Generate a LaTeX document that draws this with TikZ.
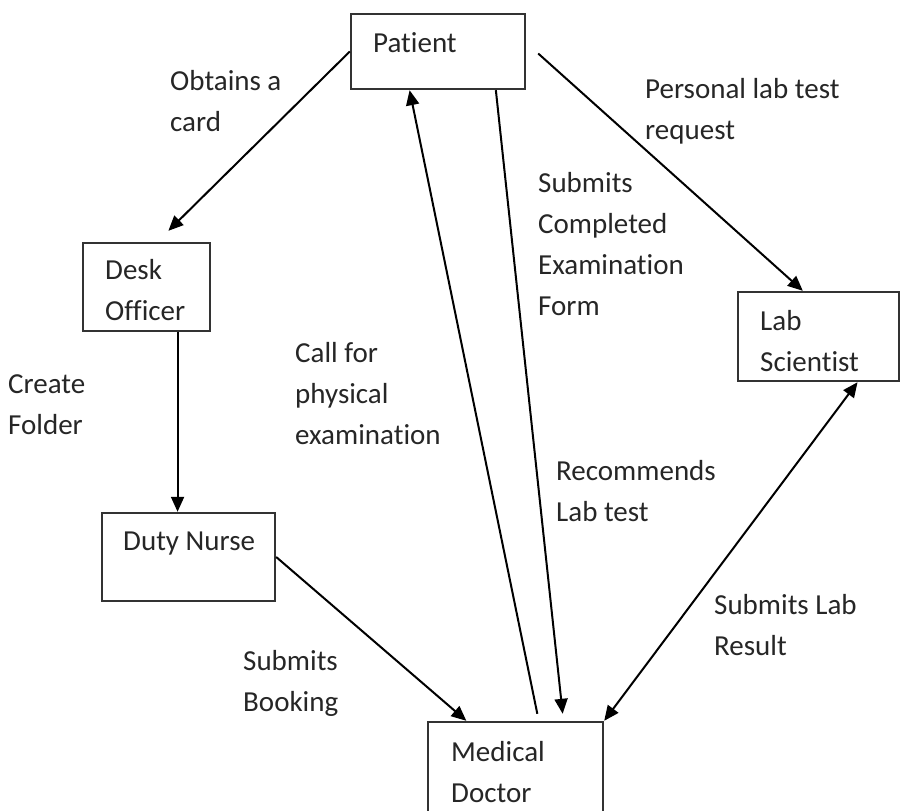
\documentclass[tikz,border=0pt]{standalone}
\usepackage{fontspec}
\setmainfont[Ligatures=NoCommon]{Carlito}
\usetikzlibrary{arrows.meta,calc}

\tikzset{
  box/.style={draw=black!80, line width=2.4pt, rectangle, inner sep=0pt, fill=white},
  % base west of a multi-line text is the baseline of its last line
  txt/.style={anchor=base west, inner sep=0pt, align=left, text=black!85,
    font=\fontsize{29}{41}\selectfont},
  conn/.style={line width=2pt, draw=black},
  arr/.style={conn, -{Triangle[length=15pt,width=13pt]}},
  darr/.style={conn, {Triangle[length=15pt,width=13pt]}-{Triangle[length=15pt,width=13pt]}}
}

\begin{document}
\begin{tikzpicture}[x=1pt, y=-1pt]
  \useasboundingbox (0,0) rectangle (903,811);

  % boxes
  \node[box, minimum width=174pt, minimum height=75pt] (patient) at (438,51.5) {};
  \node[box, minimum width=127pt, minimum height=88pt] (desk) at (146.5,287) {};
  \node[box, minimum width=161pt, minimum height=89pt] (lab) at (818.5,336.5) {};
  \node[box, minimum width=173pt, minimum height=88pt] (nurse) at (188.5,557) {};
  \node[box, minimum width=175pt, minimum height=92pt] (doctor) at (515.5,768) {};

  % box captions
  \node[txt] (tpatient) at (373,52) {Patient};
  \node[txt] (tdesk) at (105,320) {Desk\\Officer};
  \node[txt] (tlab) at (760,371) {Lab\\Scientist};
  \node[txt] (tnurse) at (123,550) {Duty Nurse};
  \node[txt] (tdoctor) at (451,802) {Medical\\Doctor};

  % connector labels
  \node[txt] (lcard) at (170,131) {Obtains a\\card};
  \node[txt] (lreq) at (645,139) {Personal lab test\\request};
  \node[txt] (lform) at (538,315) {Submits\\Completed\\Examination\\Form};
  \node[txt] (lfolder) at (8,434) {Create\\Folder};
  \node[txt] (lcall) at (295,444) {Call for\\physical\\examination};
  \node[txt] (lrec) at (556,521) {Recommends\\Lab test};
  \node[txt] (lres) at (714,655) {Submits Lab\\Result};
  \node[txt] (lbook) at (243,711) {Submits\\Booking};

  % edge points on the boxes
  \coordinate (pUp) at ($(patient.south west)!0.339!(patient.south east)$);
  \coordinate (pDown) at ($(patient.south west)!0.828!(patient.south east)$);
  \coordinate (dUp) at ($(doctor.north west)!0.623!(doctor.north east)+(0,-7)$);
  \coordinate (dDown) at ($(doctor.north west)!0.766!(doctor.north east)+(0,-7)$);
  \coordinate (dNurse) at ($(doctor.north west)!0.223!(doctor.north east)$);
  \coordinate (labBot) at ($(lab.south west)!0.739!(lab.south east)$);
  \coordinate (labTop) at ($(lab.north west)!0.404!(lab.north east)$);
  \coordinate (deskTop) at ($(desk.north west)!0.669!(desk.north east)+(0,-11)$);
  \coordinate (deskBot) at ($(desk.south west)!0.74!(desk.south east)$);
  \coordinate (pRight) at ($(patient.east)+(12,2)$);

  % connectors
  \draw[arr] (patient.west) -- (deskTop);
  \draw[arr] (pRight) -- (labTop);
  \draw[arr] (pDown) -- (dDown);
  \draw[arr] (dUp) -- (pUp);
  \draw[arr] (deskBot) -- (deskBot |- nurse.north);
  \draw[arr] (nurse.east) -- (dNurse);
  \draw[darr] (labBot) -- (doctor.north east);
\end{tikzpicture}
\end{document}
